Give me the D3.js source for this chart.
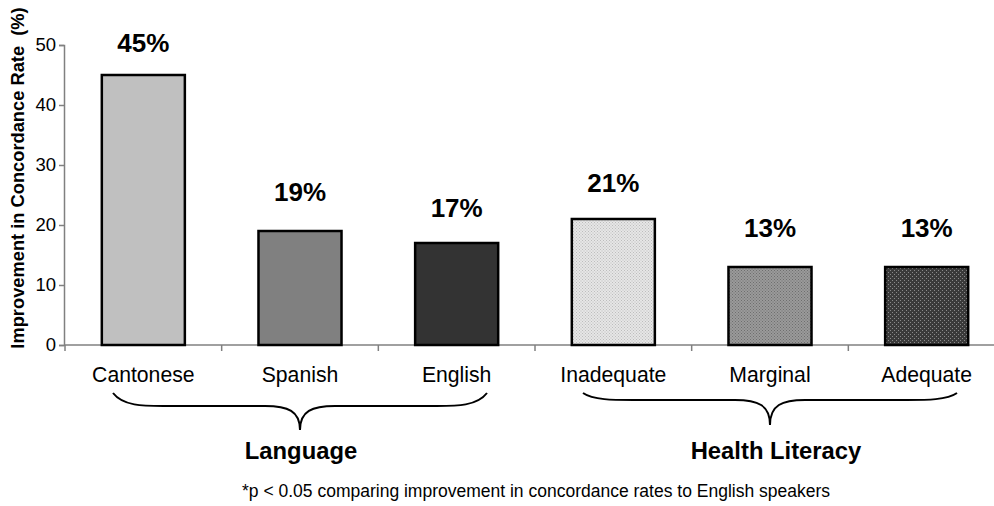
<!DOCTYPE html>
<html><head><meta charset="utf-8">
<script src="https://cdn.jsdelivr.net/npm/d3@7"></script>
<style>body{margin:0;background:#fff}svg{display:block;font-family:Arial,"Liberation Sans",sans-serif}</style>
</head><body><svg id="c" width="994" height="506"></svg>
<script>
const categories = ["Cantonese","Spanish","English","Inadequate","Marginal","Adequate"];
const values = [45,19,17,21,13,13];
const valueLabels = ["45%","19%","17%","21%","13%","13%"];
const labelLevels = [48.8,24,21.3,25.5,18,18];
const groups = ["Language","Health Literacy"];
const groupStart = [0,3];
const groupEnd = [2,5];
const yTicks = [0,10,20,30,40,50];
const footnote = "*p < 0.05 comparing improvement in concordance rates to English speakers";

const svg = d3.select("#c");
const defs = svg.append("defs");
function dotPattern(id, bg, dot, size){
  const p = defs.append("pattern").attr("id",id).attr("patternUnits","userSpaceOnUse").attr("width",size).attr("height",size);
  p.append("rect").attr("width",size).attr("height",size).attr("fill",bg);
  p.append("rect").attr("x",0).attr("y",0).attr("width",1).attr("height",1).attr("fill",dot);
  p.append("rect").attr("x",size/2).attr("y",size/2).attr("width",1).attr("height",1).attr("fill",dot);
}
dotPattern("p1","#e6e6e6","#bdbdbd",3);
dotPattern("p2","#9a9a9a","#6e6e6e",3);
dotPattern("p3","#3a3a3a","#8a8a8a",4);
const fills = ["#c0c0c0","#808080","#333333","url(#p1)","url(#p2)","url(#p3)"];

const x = d3.scaleBand().domain(categories).range([65,1005]).paddingInner(0.47).paddingOuter(0.235);
const xb = d3.scaleBand().domain(categories).range([65,1005]);
const y = d3.scaleLinear().domain([0,50]).range([345,45]);

// y axis
const ya = svg.append("g").attr("transform","translate(64,0)")
  .call(d3.axisLeft(y).tickValues(yTicks).tickSize(5).tickPadding(3));
ya.select(".domain").attr("stroke","#808080").attr("stroke-width",1.5);
ya.selectAll(".tick line").attr("stroke","#808080").attr("stroke-width",1.5);
ya.selectAll(".tick text").attr("font-size",18.5).attr("fill","#000").attr("font-family","Arial,'Liberation Sans',sans-serif");

// x axis line + ticks
const xa = svg.append("g");
xa.append("line").attr("x1",64).attr("x2",994).attr("y1",y(0)).attr("y2",y(0)).attr("stroke","#808080").attr("stroke-width",1.5);
xa.selectAll("line.t").data(categories).join("line").attr("class","t")
  .attr("x1",d=>xb(d)).attr("x2",d=>xb(d)).attr("y1",y(0)).attr("y2",y(0)+6)
  .attr("stroke","#808080").attr("stroke-width",1.5);

// bars
svg.selectAll("rect.bar").data(values).join("rect").attr("class","bar")
  .attr("x",(d,i)=>x(categories[i])).attr("width",x.bandwidth())
  .attr("y",d=>y(d)).attr("height",d=>y(0)-y(d))
  .attr("fill",(d,i)=>fills[i]).attr("stroke","#000").attr("stroke-width",2.5);

// value labels
svg.selectAll("text.vl").data(valueLabels).join("text").attr("class","vl")
  .attr("x",(d,i)=>x(categories[i])+x.bandwidth()/2).attr("y",(d,i)=>y(labelLevels[i]))
  .attr("text-anchor","middle").attr("font-size",26).attr("font-weight","bold").text(d=>d);

// category labels
svg.selectAll("text.cl").data(categories).join("text").attr("class","cl")
  .attr("x",d=>x(d)+x.bandwidth()/2).attr("y",382)
  .attr("text-anchor","middle").attr("font-size",21.2).text(d=>d);

// y title
svg.append("text").attr("transform","translate(24,178) rotate(-90)")
  .attr("text-anchor","middle").attr("font-size",18.3).attr("font-weight","bold")
  .attr("xml:space","preserve").style("white-space","pre")
  .text("Improvement in Concordance Rate  (%)");

// braces
const braceDepth = [37,32];
const braceFlat = [13,7];
groups.forEach((g,i)=>{
  const x1 = xb(categories[groupStart[i]]) + 48;
  const x2 = xb(categories[groupEnd[i]]) + xb.bandwidth() - 48;
  const cx = (x1+x2)/2, y0 = 393, yf = y0+braceFlat[i], yt = y0+braceDepth[i];
  const path = `M${x1},${y0} C${x1+10},${yf} ${x1+30},${yf} ${x1+50},${yf} L${cx-35},${yf} C${cx-12},${yf} ${cx},${yf+5} ${cx},${yt} C${cx},${yf+5} ${cx+12},${yf} ${cx+35},${yf} L${x2-50},${yf} C${x2-30},${yf} ${x2-10},${yf} ${x2},${y0}`;
  svg.append("path").attr("d",path).attr("fill","none").attr("stroke","#000").attr("stroke-width",2);
  svg.append("text").attr("x",cx+(i===0?1:6)).attr("y",459).attr("text-anchor","middle")
    .attr("font-size",23.8).attr("font-weight","bold").text(g);
});

svg.append("text").attr("x",242).attr("y",497).attr("font-size",17.5).text(footnote);
</script></body></html>
